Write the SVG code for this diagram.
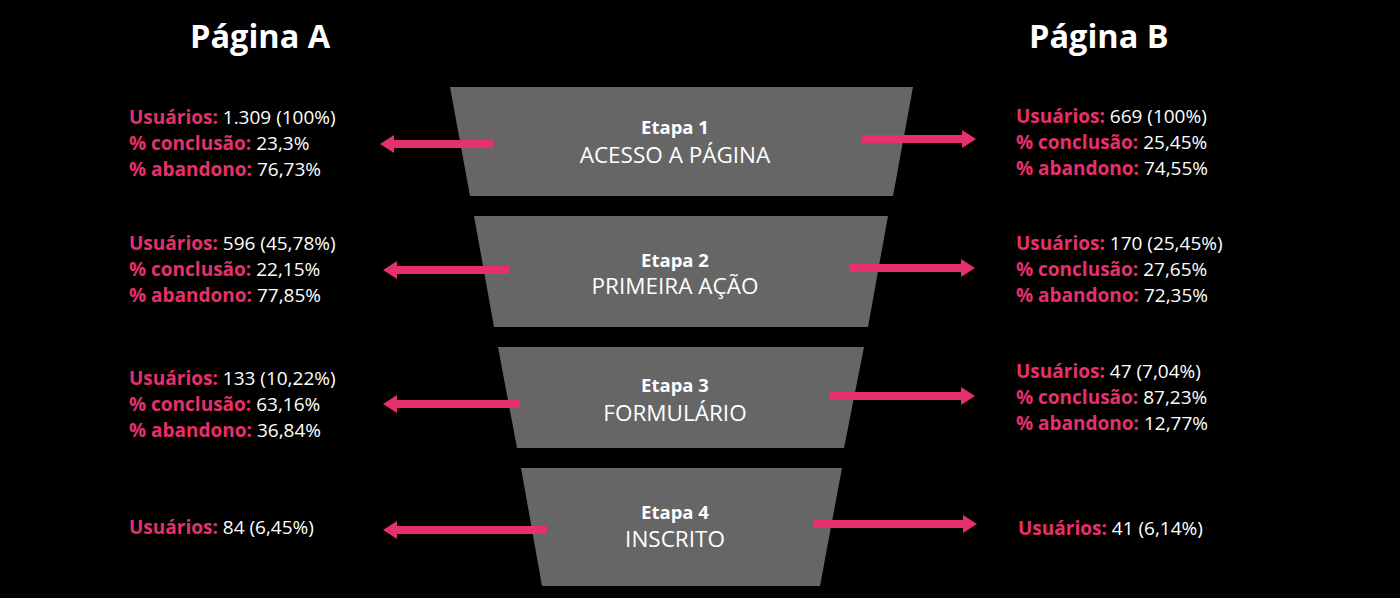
<svg xmlns="http://www.w3.org/2000/svg" width="1400" height="598" viewBox="0 0 1400 598">
<defs>
<style>
.bg{fill:#000}
.stage{fill:#666666}
.hdr{font-family:"Open Sans","Liberation Sans",sans-serif;font-weight:700;font-size:32.5px;fill:#fff}
.et{font-family:"Open Sans","Liberation Sans",sans-serif;font-weight:700;font-size:18.5px;fill:#fff;text-anchor:middle}
.nm{font-family:"Open Sans","Liberation Sans",sans-serif;font-weight:400;font-size:22.5px;fill:#fff;text-anchor:middle}
.st{font-family:"Open Sans","Liberation Sans",sans-serif;font-size:19px;fill:#fff}
.lb{font-weight:700;fill:#e6306b}
.arr{stroke:#e6306b;stroke-width:8;fill:none}
.head{fill:#e6306b}
</style>
</defs>
<rect class="bg" x="0" y="0" width="1400" height="598"/>
<text class="hdr" x="190" y="48">Página A</text>
<text class="hdr" x="1029" y="48">Página B</text>

<g id="stage1">
<polygon class="stage" points="450,87 913,87 893,196 470,196"/>
<text class="et" x="675" y="134">Etapa 1</text>
<text class="nm" x="675" y="163">ACESSO A PÁGINA</text>
</g>
<g id="stage2">
<polygon class="stage" points="474,216 888,216 868,327 494,327"/>
<text class="et" x="675" y="267">Etapa 2</text>
<text class="nm" x="675" y="294">PRIMEIRA AÇÃO</text>
</g>
<g id="stage3">
<polygon class="stage" points="498,347 864,347 844,448 517,448"/>
<text class="et" x="675" y="392">Etapa 3</text>
<text class="nm" x="675" y="421">FORMULÁRIO</text>
</g>
<g id="stage4">
<polygon class="stage" points="521,468 842,468 820,586 542,586"/>
<text class="et" x="675" y="519">Etapa 4</text>
<text class="nm" x="675" y="547">INSCRITO</text>
</g>

<g id="connectors">
<line class="arr" x1="494" y1="144" x2="392" y2="144"/><polygon class="head" points="380,144 394,135 394,153"/>
<line class="arr" x1="862" y1="139" x2="964" y2="139"/><polygon class="head" points="976,139 962,130 962,148"/>
<line class="arr" x1="509" y1="270" x2="395" y2="270"/><polygon class="head" points="383,270 397,261 397,279"/>
<line class="arr" x1="849" y1="268" x2="963" y2="268"/><polygon class="head" points="975,268 961,259 961,277"/>
<line class="arr" x1="520" y1="404" x2="395" y2="404"/><polygon class="head" points="383,404 397,395 397,413"/>
<line class="arr" x1="829" y1="396" x2="963" y2="396"/><polygon class="head" points="975,396 961,387 961,405"/>
<line class="arr" x1="547" y1="530" x2="395" y2="530"/><polygon class="head" points="383,530 397,521 397,539"/>
<line class="arr" x1="813" y1="524" x2="965" y2="524"/><polygon class="head" points="977,524 963,515 963,533"/>
</g>

<g id="statsA1" class="st">
<text x="129" y="124"><tspan class="lb">Usuários:</tspan> 1.309 (100%)</text>
<text x="129" y="150"><tspan class="lb">% conclusão:</tspan> 23,3%</text>
<text x="129" y="176"><tspan class="lb">% abandono:</tspan> 76,73%</text>
</g>
<g id="statsA2" class="st">
<text x="129" y="250"><tspan class="lb">Usuários:</tspan> 596 (45,78%)</text>
<text x="129" y="276"><tspan class="lb">% conclusão:</tspan> 22,15%</text>
<text x="129" y="302"><tspan class="lb">% abandono:</tspan> 77,85%</text>
</g>
<g id="statsA3" class="st">
<text x="129" y="385"><tspan class="lb">Usuários:</tspan> 133 (10,22%)</text>
<text x="129" y="411"><tspan class="lb">% conclusão:</tspan> 63,16%</text>
<text x="129" y="437"><tspan class="lb">% abandono:</tspan> 36,84%</text>
</g>
<g id="statsA4" class="st">
<text x="129" y="534"><tspan class="lb">Usuários:</tspan> 84 (6,45%)</text>
</g>
<g id="statsB1" class="st">
<text x="1016" y="123"><tspan class="lb">Usuários:</tspan> 669 (100%)</text>
<text x="1016" y="149"><tspan class="lb">% conclusão:</tspan> 25,45%</text>
<text x="1016" y="175"><tspan class="lb">% abandono:</tspan> 74,55%</text>
</g>
<g id="statsB2" class="st">
<text x="1016" y="250"><tspan class="lb">Usuários:</tspan> 170 (25,45%)</text>
<text x="1016" y="276"><tspan class="lb">% conclusão:</tspan> 27,65%</text>
<text x="1016" y="302"><tspan class="lb">% abandono:</tspan> 72,35%</text>
</g>
<g id="statsB3" class="st">
<text x="1016" y="378"><tspan class="lb">Usuários:</tspan> 47 (7,04%)</text>
<text x="1016" y="404"><tspan class="lb">% conclusão:</tspan> 87,23%</text>
<text x="1016" y="430"><tspan class="lb">% abandono:</tspan> 12,77%</text>
</g>
<g id="statsB4" class="st">
<text x="1018" y="535"><tspan class="lb">Usuários:</tspan> 41 (6,14%)</text>
</g>
</svg>
